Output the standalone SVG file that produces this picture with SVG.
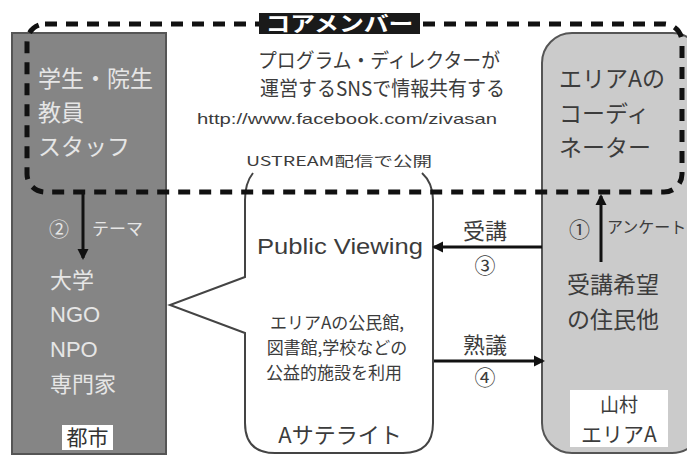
<svg xmlns="http://www.w3.org/2000/svg" width="687" height="456" viewBox="0 0 687 456">
<style>
  text { font-family: "Noto Sans CJK JP", "Noto Sans", sans-serif; }
  .wt { fill: #e6e6e6; }
  .dk { fill: #3c3c3c; }
  .lat { font-family: "Liberation Sans", Arial, sans-serif; }
  .conn { stroke: #111; stroke-width: 3; fill: none; }
</style>
<defs>
  <marker id="ah" markerWidth="12" markerHeight="12" refX="9" refY="6" orient="auto" markerUnits="userSpaceOnUse">
    <path d="M0,0.5 L11,6 L0,11.5 z" fill="#111"/>
  </marker>
</defs>
<rect width="687" height="456" fill="#fff"/>

<g id="city">
  <rect x="12" y="33" width="154" height="421" fill="#858585" stroke="#555" stroke-width="2"/>
  <text class="wt" x="38" y="87" font-size="23">学生・院生</text>
  <text class="wt" x="38" y="121" font-size="23">教員</text>
  <text class="wt" x="38" y="155" font-size="23">スタッフ</text>
  <text class="wt" x="49" y="237" font-size="20">②</text>
  <text class="wt" x="92" y="235" font-size="17">テーマ</text>
  <text class="wt" x="50" y="288" font-size="22">大学</text>
  <text class="wt lat" x="50" y="322" font-size="22">NGO</text>
  <text class="wt lat" x="50" y="357" font-size="22">NPO</text>
  <text class="wt" x="50" y="392" font-size="22">専門家</text>
  <rect x="62" y="425" width="51" height="25" fill="#fff"/>
  <text x="87.5" y="445" text-anchor="middle" font-size="21" fill="#333">都市</text>
</g>

<g id="area">
  <rect x="542" y="33" width="160" height="420" rx="30" fill="#cbcbcb" stroke="#555" stroke-width="2"/>
  <text class="dk" x="559" y="87" font-size="23">エリアAの</text>
  <text class="dk" x="559" y="122" font-size="23">コーディ</text>
  <text class="dk" x="559" y="156" font-size="23">ネーター</text>
  <text class="dk" x="569" y="237" font-size="21">①</text>
  <text class="dk" x="607" y="233" font-size="16">アンケート</text>
  <text class="dk" x="567" y="293" font-size="23">受講希望</text>
  <text class="dk" x="567" y="328" font-size="23">の住民他</text>
  <rect x="570" y="390" width="98" height="57" fill="#fff"/>
  <text class="dk" x="619" y="412" text-anchor="middle" font-size="19">山村</text>
  <text class="dk" x="619" y="442" text-anchor="middle" font-size="21">エリアA</text>
</g>

<g id="satellite">
  <path d="M253,173 Q245,183 245,200 L245,277 L170,305 L245,333 L245,423 Q245,453 275,453 L403,453 Q433,453 433,423 L433,200 Q433,183 422,173" fill="#fff" stroke="#444" stroke-width="2"/>
  <text class="dk" x="246" y="166" font-size="13.5" textLength="186" lengthAdjust="spacingAndGlyphs">USTREAM配信で公開</text>
  <text class="dk lat" x="257" y="254" font-size="22" textLength="166" lengthAdjust="spacingAndGlyphs">Public Viewing</text>
  <text class="dk" x="337" y="329" text-anchor="middle" font-size="17">エリアAの公民館,</text>
  <text class="dk" x="337" y="354" text-anchor="middle" font-size="17">図書館,学校などの</text>
  <text class="dk" x="334" y="379" text-anchor="middle" font-size="17">公益的施設を利用</text>
  <text class="dk" x="340" y="443" text-anchor="middle" font-size="22">Aサテライト</text>
</g>

<g id="core">
  <rect x="27" y="24" width="655" height="168" rx="18" fill="none" stroke="#111" stroke-width="5" stroke-dasharray="12 9"/>
  <rect x="259" y="13" width="161" height="21" fill="#1a1a1a"/>
  <text x="339.5" y="31" text-anchor="middle" font-size="21" font-weight="bold" fill="#fff" textLength="148" lengthAdjust="spacingAndGlyphs">コアメンバー</text>
  <text class="dk" x="258" y="68" font-size="20" textLength="242" lengthAdjust="spacingAndGlyphs">プログラム・ディレクターが</text>
  <text class="dk" x="260" y="96" font-size="20" textLength="245" lengthAdjust="spacingAndGlyphs">運営するSNSで情報共有する</text>
  <text class="dk lat" x="197" y="124" font-size="14.5" textLength="300" lengthAdjust="spacingAndGlyphs">http://www.facebook.com/zivasan</text>
</g>

<g id="connectors">
  <line class="conn" x1="83" y1="193" x2="83" y2="258" marker-end="url(#ah)"/>
  <line class="conn" x1="601" y1="262" x2="601" y2="196" marker-end="url(#ah)"/>
  <line class="conn" x1="542" y1="247" x2="434" y2="247" marker-end="url(#ah)"/>
  <line class="conn" x1="434" y1="361" x2="543" y2="361" marker-end="url(#ah)"/>
  <text class="dk" x="485" y="239" text-anchor="middle" font-size="22">受講</text>
  <text class="dk" x="485" y="273" text-anchor="middle" font-size="21">③</text>
  <text class="dk" x="485" y="353" text-anchor="middle" font-size="22">熟議</text>
  <text class="dk" x="485" y="385" text-anchor="middle" font-size="21">④</text>
</g>
</svg>
